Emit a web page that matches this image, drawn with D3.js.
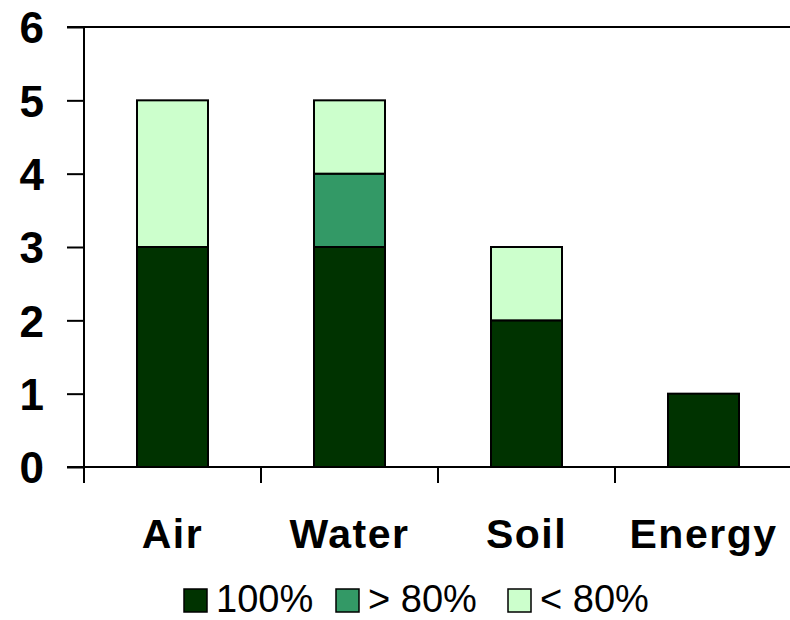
<!DOCTYPE html>
<html><head><meta charset="utf-8">
<script src="https://cdn.jsdelivr.net/npm/d3@7"></script>
<style>body{margin:0;background:#fff}</style>
</head><body>
<svg id="c" width="790" height="620"></svg>
<script>
const categories = ["Air","Water","Soil","Energy"];
const seriesNames = ["100%","> 80%","< 80%"];
const full = [3,3,2,1];
const above80 = [0,1,0,0];
const below80 = [2,1,1,0];
const yTicks = [0,1,2,3,4,5,6];
const colors = ["#003300","#339966","#CCFFCC"];

(function(){
const svg = d3.select("#c");
const pLeft = 84, pRight = 792, pTop = 27, pBottom = 467;
const x = d3.scaleBand().domain(categories).range([pLeft,pRight]).paddingInner(0).paddingOuter(0);
const y = d3.scaleLinear().domain([0,6]).range([pBottom,pTop]);

const rows = categories.map((c,i)=>({cat:c, "100%":full[i], "> 80%":above80[i], "< 80%":below80[i]}));
const stack = d3.stack().keys(seriesNames)(rows);
const bw = 71;

svg.append("line").attr("x1",67).attr("x2",790).attr("y1",y(6)).attr("y2",y(6)).attr("stroke","#000").attr("stroke-width",2);

stack.forEach((s,si)=>{
  svg.append("g").selectAll("rect").data(s.filter(d=>d[1]-d[0]>0)).join("rect")
    .attr("x",d=>x(d.data.cat)+x.bandwidth()/2-bw/2)
    .attr("width",bw)
    .attr("y",d=>y(d[1]))
    .attr("height",d=>y(d[0])-y(d[1]))
    .attr("fill",colors[si]).attr("stroke","#000").attr("stroke-width",2);
});

const ya = svg.append("g").attr("transform",`translate(${pLeft},0)`)
  .call(d3.axisLeft(y).tickValues(yTicks).tickSize(17).tickPadding(23).tickFormat(d3.format("d")));
ya.select(".domain").attr("stroke","#000").attr("stroke-width",2).attr("d",`M0,${y(6)}V${pBottom}`);
ya.selectAll(".tick line").attr("stroke","#000").attr("stroke-width",2);
ya.selectAll(".tick text").attr("font-family","Liberation Sans, Arial, sans-serif").attr("font-size",44).attr("font-weight","bold").attr("fill","#000").attr("dy","0.36em");

svg.append("line").attr("x1",67).attr("x2",790).attr("y1",pBottom).attr("y2",pBottom).attr("stroke","#000").attr("stroke-width",2);
const sepTicks = categories.map(c=>x(c));
svg.append("g").selectAll("line").data(sepTicks).join("line")
  .attr("x1",d=>d).attr("x2",d=>d).attr("y1",pBottom).attr("y2",pBottom+16)
  .attr("stroke","#000").attr("stroke-width",2);
svg.append("g").selectAll("text").data(categories).join("text")
  .attr("x",d=>x(d)+x.bandwidth()/2).attr("y",548)
  .attr("text-anchor","middle")
  .attr("font-family","Liberation Sans, Arial, sans-serif").attr("font-size",41).attr("font-weight","bold")
  .attr("letter-spacing",1.5)
  .text(d=>d);

const legX = [184, 336, 508];
const lg = svg.append("g");
seriesNames.forEach((n,i)=>{
  lg.append("rect").attr("x",legX[i]).attr("y",589).attr("width",23).attr("height",23)
    .attr("fill",colors[i]).attr("stroke","#000").attr("stroke-width",1.5);
  lg.append("text").attr("x",legX[i]+32).attr("y",612)
    .attr("font-family","Liberation Sans, Arial, sans-serif").attr("font-size",38)
    .text(n);
});
})();
</script>
</body></html>
